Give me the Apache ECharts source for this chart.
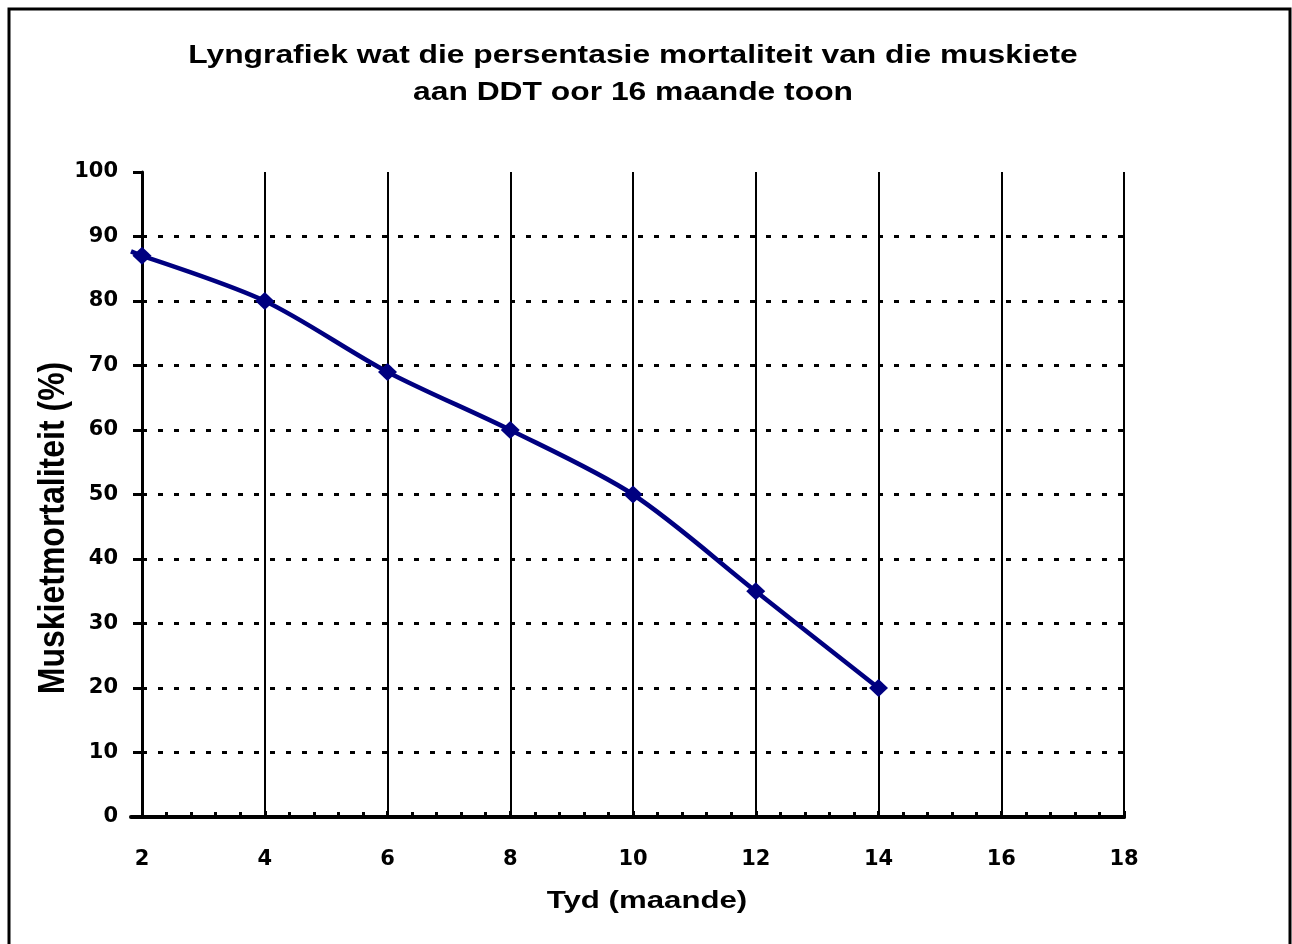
<!DOCTYPE html>
<html>
<head>
<meta charset="utf-8">
<script src="https://cdn.jsdelivr.net/npm/echarts@6/dist/echarts.min.js"></script>
<style>html,body{margin:0;padding:0;background:#fff;}#chart{width:1292px;height:944px;}</style>
</head>
<body>
<div id="chart"></div>
<script>
// Data
var titleLines = ['Lyngrafiek wat die persentasie mortaliteit van die muskiete', 'aan DDT oor 16 maande toon'];
var xName = 'Tyd (maande)';
var yName = 'Muskietmortaliteit (%)';
var months = [2, 4, 6, 8, 10, 12, 14];
var mortality = [87, 80, 69, 60, 50, 35, 20];
// the plotted x range starts a little before 2; the line starts there
var xRangeStart = 1.82;
var leadValue = 87.7;
var xTicks = [2, 4, 6, 8, 10, 12, 14, 16, 18];
var yTicks = [0, 10, 20, 30, 40, 50, 60, 70, 80, 90, 100];

var chart = echarts.init(document.getElementById('chart'), null, {renderer: 'canvas'});
var seriesData = [];
for (var i = 0; i < months.length; i++) seriesData.push([months[i], mortality[i]]);

// layout
var gLeft = 142, gRight = 168, gTop = 172, gBottom = 127;
var xMin = xTicks[0], xMax = xTicks[xTicks.length - 1];
var pxPerUnit = (1292 - gLeft - gRight) / (xMax - xMin);
var plotLeft = gLeft - (xMin - xRangeStart) * pxPerUnit;

var option = {
  backgroundColor: '#ffffff',
  animation: false,
  grid: [
    {left: gLeft, right: gRight, top: gTop, bottom: gBottom, containLabel: false},
    {left: plotLeft, right: gRight, top: gTop, bottom: gBottom, containLabel: false}
  ],
  xAxis: [{
    gridIndex: 0,
    type: 'value', min: xMin, max: xMax, interval: 2,
    axisLine: {show: true, lineStyle: {color: '#000', width: 4}},
    axisTick: {show: true, inside: true, length: 6, lineStyle: {color: '#000', width: 3}},
    minorTick: {show: true, splitNumber: 5, length: 5, lineStyle: {color: '#000', width: 3}},
    axisLabel: {margin: 32, color: '#000', fontFamily: 'DejaVu Sans', fontWeight: 'bold', fontSize: 21},
    splitLine: {show: true, showMinLine: false, lineStyle: {color: '#000', width: 2, type: 'solid'}}
  }, {
    gridIndex: 1,
    type: 'value', min: xRangeStart, max: xMax,
    axisLine: {show: true, lineStyle: {color: '#000', width: 4}},
    axisTick: {show: false}, axisLabel: {show: false}, splitLine: {show: false}
  }],
  yAxis: [{
    gridIndex: 0,
    type: 'value', min: yTicks[0], max: yTicks[yTicks.length - 1], interval: 10,
    axisLine: {show: true, lineStyle: {color: '#000', width: 3}},
    axisTick: {show: true, inside: false, length: 9, lineStyle: {color: '#000', width: 3}},
    axisLabel: {margin: 24, color: '#000', fontFamily: 'DejaVu Sans', fontWeight: 'bold', fontSize: 21},
    splitLine: {show: true, showMinLine: false, showMaxLine: false, lineStyle: {color: '#000', width: 3, type: [5, 11]}}
  }, {
    gridIndex: 1,
    type: 'value', min: yTicks[0], max: yTicks[yTicks.length - 1], interval: 10,
    axisLine: {show: false}, axisTick: {show: false}, axisLabel: {show: false}, splitLine: {show: false}
  }],
  series: [{
    type: 'line',
    name: 'lead',
    xAxisIndex: 1, yAxisIndex: 1,
    data: [[xRangeStart, leadValue], seriesData[0]],
    symbol: 'none',
    lineStyle: {color: '#000080', width: 4.5},
    z: 4
  }, {
    type: 'line',
    xAxisIndex: 1, yAxisIndex: 1,
    data: seriesData,
    smooth: 0.3,
    clip: false,
    symbol: 'diamond',
    symbolSize: [19, 18],
    lineStyle: {color: '#000080', width: 4.5},
    itemStyle: {color: '#000080'},
    z: 5
  }],
  graphic: [
    {type: 'rect', shape: {x: 9, y: 9, width: 1281, height: 1000}, style: {fill: 'none', stroke: '#000', lineWidth: 3}, silent: true},
    {type: 'text', x: 633, y: 74, scaleX: 1.2,
      style: {text: titleLines.join('\n'), fontFamily: 'Liberation Sans', fontWeight: 'bold', fontSize: 26.5, lineHeight: 37,
        fill: '#000', textAlign: 'center', textVerticalAlign: 'middle'}},
    {type: 'text', x: 647, y: 901, scaleX: 1.3,
      style: {text: xName, fontFamily: 'Liberation Sans', fontWeight: 'bold', fontSize: 24,
        fill: '#000', textAlign: 'center', textVerticalAlign: 'middle'}},
    {type: 'text', x: 54, y: 528, rotation: Math.PI / 2, scaleY: 1.15,
      style: {text: yName, fontFamily: 'Liberation Sans', fontWeight: 'bold', fontSize: 32,
        fill: '#000', textAlign: 'center', textVerticalAlign: 'middle'}}
  ]
};
chart.setOption(option);
</script>
</body>
</html>
